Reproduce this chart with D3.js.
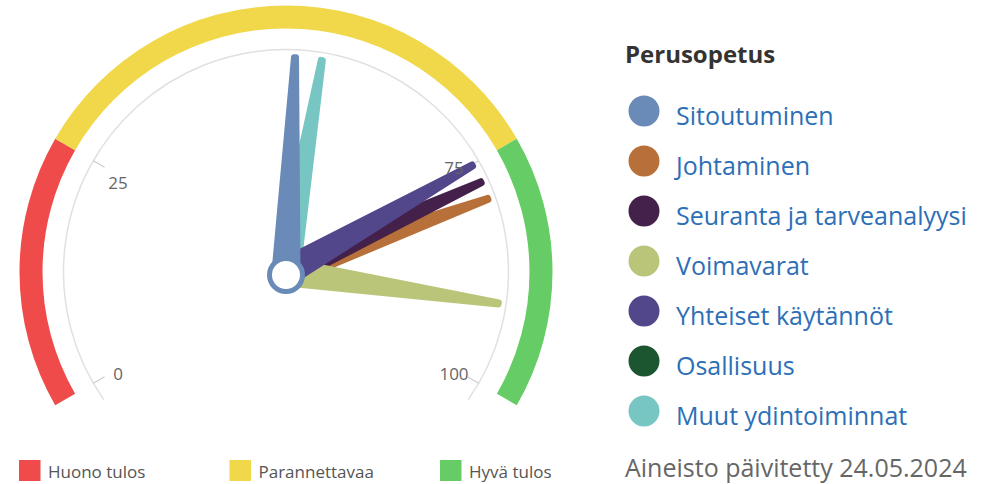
<!DOCTYPE html>
<html>
<head>
<meta charset="utf-8">
<script src="https://cdn.jsdelivr.net/npm/d3@7"></script>
<style>
  html, body { margin: 0; padding: 0; background: #fff; }
  svg { display: block; font-family: "Open Sans", "Noto Sans", sans-serif; }
</style>
</head>
<body>
<div id="chart"></div>
<script>
// --- data ---
const seriesNames = ["Sitoutuminen", "Johtaminen", "Seuranta ja tarveanalyysi", "Voimavarat",
  "Yhteiset käytännöt", "Osallisuus", "Muut ydintoiminnat"];
const seriesValues = [51, 79.2, 77.2, 91, 75.1, null, 54];
const seriesColors = ["#6a8ab8", "#b8703a", "#44214a", "#bac57a", "#52478a", "#1c5631", "#78c6c4"];
// which needle sits on top of which (bottom first)
const drawOrder = ["Osallisuus", "Muut ydintoiminnat", "Johtaminen", "Seuranta ja tarveanalyysi",
  "Voimavarat", "Yhteiset käytännöt", "Sitoutuminen"];

const bandNames = ["Huono tulos", "Parannettavaa", "Hyvä tulos"];
const bandFrom = [0, 25, 75];
const bandTo = [25, 75, 100];
const bandColors = ["#ef4b4b", "#f0d84a", "#66cc66"];

const tickValues = [0, 25, 75, 100];
const legendTitle = "Perusopetus";
const updatedText = "Aineisto päivitetty 24.05.2024";

// --- layout ---
const width = 989, height = 484;
const cx = 286, cy = 272;
const deg = Math.PI / 180;
const angle = d3.scaleLinear().domain([0, 100]).range([-120 * deg, 120 * deg]);
// small vertical nudges for the axis labels (px), same order as tickValues
const labelNudge = [5, 8, -7, 5];

const svg = d3.select("#chart").append("svg")
  .attr("width", width)
  .attr("height", height);

const gauge = svg.append("g").attr("transform", `translate(${cx},${cy})`);

// coloured bands
const bandArc = d3.arc().innerRadius(243.5).outerRadius(266.5);
gauge.selectAll("path.band")
  .data(bandNames)
  .enter().append("path")
  .attr("class", "band")
  .attr("fill", (d, i) => bandColors[i])
  .attr("d", (d, i) => bandArc({ startAngle: angle(bandFrom[i]), endAngle: angle(bandTo[i]) }));

// thin axis line
gauge.append("path")
  .attr("fill", "none")
  .attr("stroke", "#e0e0e0")
  .attr("stroke-width", 1.5)
  .attr("d", d3.arc().innerRadius(222.5).outerRadius(222.5)({
    startAngle: angle(0) - 5 * deg, endAngle: angle(100) + 5 * deg }));

// ticks + labels
const ticks = gauge.selectAll("g.tick")
  .data(tickValues)
  .enter().append("g")
  .attr("class", "tick");

ticks.append("line")
  .attr("stroke", "#cccccc")
  .attr("stroke-width", 1.2)
  .attr("x1", d => 222.5 * Math.sin(angle(d)))
  .attr("y1", d => -222.5 * Math.cos(angle(d)))
  .attr("x2", d => 209.5 * Math.sin(angle(d)))
  .attr("y2", d => -209.5 * Math.cos(angle(d)));

// needles
const needleLine = d3.line().curve(d3.curveLinearClosed);
function needlePath(v) {
  const a = angle(v);
  const dx = Math.sin(a), dy = -Math.cos(a);
  const px = Math.cos(a), py = Math.sin(a);
  const len = 215, hw0 = 11.5, hw1 = 1;
  return needleLine([
    [px * hw0, py * hw0],
    [dx * len + px * hw1, dy * len + py * hw1],
    [dx * len - px * hw1, dy * len - py * hw1],
    [-px * hw0, -py * hw0]
  ]);
}

const needleData = drawOrder
  .map(name => seriesNames.indexOf(name))
  .filter(i => seriesValues[i] != null);

gauge.selectAll("path.needle")
  .data(needleData)
  .enter().append("path")
  .attr("class", "needle")
  .attr("fill", i => seriesColors[i])
  .attr("stroke", i => seriesColors[i])
  .attr("stroke-width", 6)
  .attr("stroke-linejoin", "round")
  .attr("d", i => needlePath(seriesValues[i]));

// axis labels
gauge.selectAll("text.tickLabel")
  .data(tickValues)
  .enter().append("text")
  .attr("class", "tickLabel")
  .attr("x", d => 194 * Math.sin(angle(d)))
  .attr("y", (d, i) => -194 * Math.cos(angle(d)) + labelNudge[i])
  .attr("dy", "0.35em")
  .attr("text-anchor", "middle")
  .attr("font-size", 17)
  .attr("fill", "#666666")
  .text(d => d);

// hub
gauge.append("circle")
  .attr("cx", 0)
  .attr("cy", 3)
  .attr("r", 16.5)
  .attr("fill", "#fff")
  .attr("stroke", seriesColors[0])
  .attr("stroke-width", 5);

// bottom legend (bands)
const bandLegend = svg.selectAll("g.bandLegend")
  .data(bandNames)
  .enter().append("g")
  .attr("class", "bandLegend")
  .attr("transform", (d, i) => `translate(${19 + i * 210.5},460)`);

bandLegend.append("rect")
  .attr("width", 21.5)
  .attr("height", 21)
  .attr("fill", (d, i) => bandColors[i]);

bandLegend.append("text")
  .attr("x", 29)
  .attr("y", 18)
  .attr("font-size", 17)
  .attr("fill", "#555555")
  .text(d => d);

// right legend (series)
svg.append("text")
  .attr("x", 625)
  .attr("y", 63)
  .attr("font-size", 24)
  .attr("font-weight", "bold")
  .attr("fill", "#333333")
  .text(legendTitle);

const seriesLegend = svg.selectAll("g.seriesLegend")
  .data(seriesNames)
  .enter().append("g")
  .attr("class", "seriesLegend")
  .attr("transform", (d, i) => `translate(644,${111 + i * 50})`);

seriesLegend.append("circle")
  .attr("r", 15.5)
  .attr("fill", (d, i) => seriesColors[i]);

seriesLegend.append("text")
  .attr("x", 32)
  .attr("y", 14)
  .attr("font-size", 25)
  .attr("fill", "#2d6fb6")
  .text(d => d);

svg.append("text")
  .attr("x", 625)
  .attr("y", 477)
  .attr("font-size", 25)
  .attr("fill", "#666666")
  .text(updatedText);
</script>
</body>
</html>
